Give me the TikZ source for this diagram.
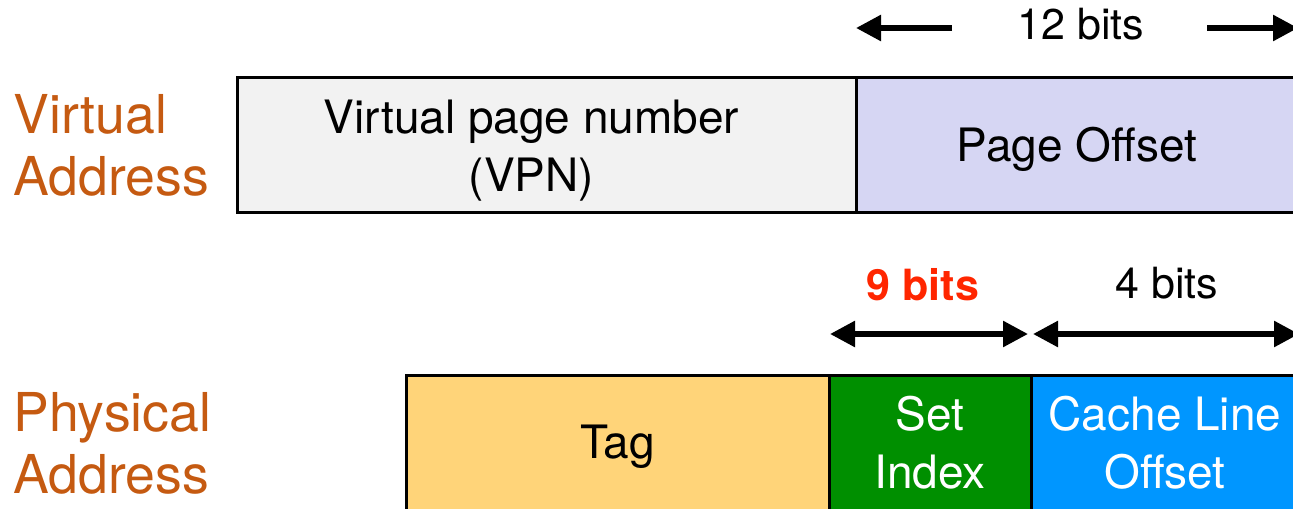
\documentclass[tikz,border=0pt]{standalone}
\usepackage{fontspec}
\setmainfont{TeX Gyre Heros}
\usepackage{tikz}
\usetikzlibrary{arrows.meta,positioning,calc}
\definecolor{MyOrange}{HTML}{C55A11}
\definecolor{MyRed}{HTML}{FF2600}
\definecolor{MyGray}{HTML}{F2F2F2}
\definecolor{MyLavender}{HTML}{D6D6F3}
\definecolor{MyYellow}{HTML}{FFD479}
\definecolor{MyGreen}{HTML}{008F00}
\definecolor{MyBlue}{HTML}{0096FF}
\tikzset{
	field/.style={draw=black, line width=1.5pt, anchor=north west, inner sep=0pt, outer sep=0pt, minimum height=67pt, align=center, font=\fontsize{23}{29}\selectfont},
	addrlabel/.style={MyOrange, anchor=west, inner sep=0pt, align=left, font=\fontsize{26.8}{31}\selectfont},
	bitlabel/.style={inner sep=0pt, font=\fontsize{21.5}{25}\selectfont},
	bitarrow/.style={line width=2.8pt, -{Triangle[length=12.5pt, width=12.5pt]}},
	dblarrow/.style={line width=2.8pt, {Triangle[length=12.5pt, width=12.5pt]}-{Triangle[length=12.5pt, width=12.5pt]}},
}
\newcommand{\lowertext}[1][22pt]{\rule{0pt}{#1}}

\begin{document}
\begin{tikzpicture}[x=0.5pt, y=-0.5pt]
	\useasboundingbox (0,0) rectangle (1293,508);
	\clip (0,0) rectangle (1293,508);
	
	% virtual address
	\node[addrlabel] (virt) at (13,145) {Virtual\\Address};
	\node[field, fill=MyGray, minimum width=309.5pt] (vpn) at (237,78) {\lowertext Virtual page number\hspace*{15pt}\\(VPN)\hspace*{15pt}};
	\node[field, fill=MyLavender, minimum width=221pt] (pageoff) at (vpn.north east) {\lowertext Page Offset};
	
	\node[bitlabel] (twelve) at (1081,24) {12 bits};
	\coordinate (twelvel) at (952,28);
	\coordinate (twelver) at (1207,28);
	\draw[bitarrow] (twelvel) -- (pageoff.north west |- twelvel);
	\draw[bitarrow] (twelver) -- (pageoff.north east |- twelver);
	
	% physical address
	\node[addrlabel] (phys) at (13,443) {Physical\\Address};
	\node[field, fill=MyYellow, minimum width=211.5pt, minimum height=68pt] (tag) at (406,375) {\lowertext[20.5pt]Tag};
	\node[field, fill=MyGreen, text=white, minimum width=101pt, minimum height=68pt] (setidx) at (tag.north east) {Set\\Index};
	\node[field, fill=MyBlue, text=white, minimum width=134pt, minimum height=68pt] (cloff) at (setidx.north east) {Cache Line\\Offset};
	
	\node[bitlabel, MyRed] (nine) at (923,285) {\bfseries 9 bits};
	\node[bitlabel] (four) at (1167,283) {4 bits};
	\draw[dblarrow] ([shift={(0.5pt,20.5pt)}]setidx.north west) -- ([shift={(-1.5pt,20.5pt)}]setidx.north east);
	\draw[dblarrow] ([shift={(1pt,20.5pt)}]cloff.north west) -- ([yshift=20.5pt]cloff.north east);
\end{tikzpicture}
\end{document}
